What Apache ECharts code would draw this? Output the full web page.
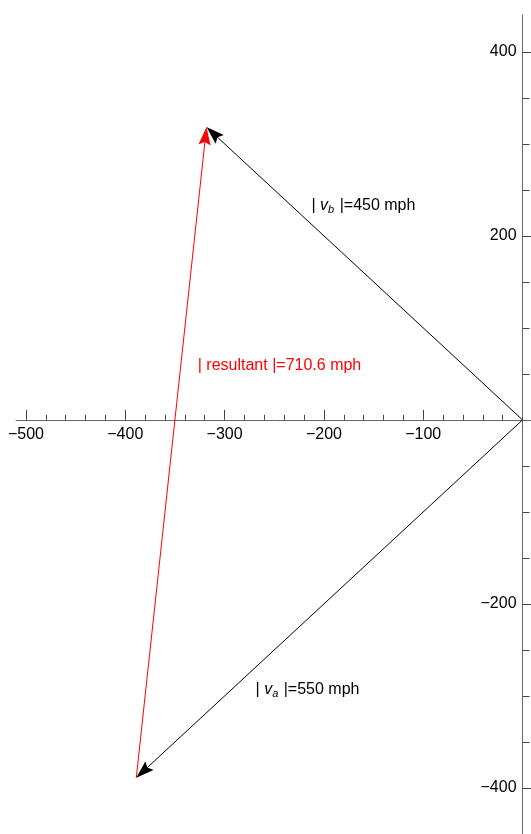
<!DOCTYPE html>
<html>
<head>
<meta charset="utf-8">
<script src="https://cdn.jsdelivr.net/npm/echarts@6/dist/echarts.min.js"></script>
<style>
html,body{margin:0;padding:0;background:#fff;}
#chart{width:531px;height:834px;}
</style>
</head>
<body>
<div id="chart"></div>
<script>
// ---- data ----
const xMajorTicks = [-500, -400, -300, -200, -100];
const xMinorTicks = [-480, -460, -440, -420, -380, -360, -340, -320, -280, -260, -240, -220, -180, -160, -140, -120, -80, -60, -40, -20];
const yMajorTicks = [-400, -200, 200, 400];
const yMinorTicks = [-350, -300, -250, -150, -100, -50, 50, 100, 150, 250, 300, 350];
const xTickLabels = ['\u2212500', '\u2212400', '\u2212300', '\u2212200', '\u2212100'];
const yTickLabels = ['\u2212400', '\u2212200', '200', '400'];
const xRange = [-510, 8.5];
const yRange = [-450, 440];

// vectors: start and end points (data units)
const vectorNames = ['v_a', 'v_b', 'resultant'];
const vectorStartX = [0, 0, -388.9];
const vectorStartY = [0, 0, -388.9];
const vectorEndX = [-388.9, -318.2, -318.2];
const vectorEndY = [-388.9, 318.2, 318.2];
const magnitudes = ['550', '450', '710.6'];
// label anchor points (data units)
const labelX = [-216.5, -160.2, -244.7];
const labelY = [-293.5, 232.4, 59.1];

const vectorColors = ['#000000', '#000000', '#ff0000'];
const FONT = '"Liberation Sans", Arial, Helvetica, sans-serif';

const arrowData = vectorNames.map((n, i) => [vectorStartX[i], vectorStartY[i], vectorEndX[i], vectorEndY[i]]);
const labelData = vectorNames.map((n, i) => [labelX[i], labelY[i]]);
const xLabelData = xMajorTicks.map((v, i) => [v, 0, i]);
const yLabelData = yMajorTicks.map((v, i) => [0, v, i]);

function labelText(i) {
  const n = vectorNames[i];
  if (n.indexOf('_') >= 0) {
    const parts = n.split('_');
    return '{bar|| }{it|' + parts[0] + '}{sub|' + parts[1] + '}{bar| |}=' + magnitudes[i] + ' mph';
  }
  return '{bar|| }' + n + '{bar| |}=' + magnitudes[i] + ' mph';
}

const chart = echarts.init(document.getElementById('chart'), null, {renderer: 'canvas'});

const axisColor = '#666666';
const tickColor = '#444444';

chart.setOption({
  animation: false,
  backgroundColor: '#ffffff',
  grid: {left: 16, right: 0, top: 15, bottom: 0, containLabel: false, outerBoundsMode: 'none'},
  xAxis: [
    {
      type: 'value', min: xRange[0], max: xRange[1], position: 'bottom',
      axisLine: {show: true, onZero: true, lineStyle: {color: axisColor, width: 1}},
      axisTick: {show: true, inside: true, length: 10, customValues: xMajorTicks, lineStyle: {color: tickColor, width: 1}},
      axisLabel: {show: false},
      splitLine: {show: false}
    },
    {
      type: 'value', min: xRange[0], max: xRange[1], position: 'bottom',
      axisLine: {show: false, onZero: true},
      axisTick: {show: true, inside: true, length: 5, customValues: xMinorTicks, lineStyle: {color: tickColor, width: 1}},
      axisLabel: {show: false},
      splitLine: {show: false}
    }
  ],
  yAxis: [
    {
      type: 'value', min: yRange[0], max: yRange[1], position: 'left',
      axisLine: {show: true, onZero: true, lineStyle: {color: axisColor, width: 1}},
      axisTick: {show: true, inside: true, length: 10, customValues: yMajorTicks, lineStyle: {color: tickColor, width: 1}},
      axisLabel: {show: false},
      splitLine: {show: false}
    },
    {
      type: 'value', min: yRange[0], max: yRange[1], position: 'left',
      axisLine: {show: false, onZero: true},
      axisTick: {show: true, inside: true, length: 7, customValues: yMinorTicks, lineStyle: {color: tickColor, width: 1}},
      axisLabel: {show: false},
      splitLine: {show: false}
    }
  ],
  series: [
    {
      // x tick labels, placed through the axis scale
      type: 'custom', coordinateSystem: 'cartesian2d', xAxisIndex: 0, yAxisIndex: 0, clip: false,
      data: xLabelData,
      renderItem: function (params, api) {
        const p = api.coord([api.value(0), api.value(1)]);
        return {type: 'text', x: p[0], y: p[1] + 7, style: {
          text: xTickLabels[params.dataIndex], align: 'center', verticalAlign: 'top',
          fill: '#000', fontSize: 16, fontFamily: FONT}};
      }
    },
    {
      // y tick labels
      type: 'custom', coordinateSystem: 'cartesian2d', xAxisIndex: 0, yAxisIndex: 0, clip: false,
      data: yLabelData,
      renderItem: function (params, api) {
        const p = api.coord([api.value(0), api.value(1)]);
        return {type: 'text', x: p[0] - 6, y: p[1], style: {
          text: yTickLabels[params.dataIndex], align: 'right', verticalAlign: 'middle',
          fill: '#000', fontSize: 16, fontFamily: FONT}};
      }
    },
    {
      type: 'custom',
      coordinateSystem: 'cartesian2d',
      xAxisIndex: 0, yAxisIndex: 0,
      clip: false,
      data: arrowData,
      renderItem: function (params, api) {
        const p0 = api.coord([api.value(0), api.value(1)]);
        const p1 = api.coord([api.value(2), api.value(3)]);
        const color = vectorColors[params.dataIndex];
        const dx = p1[0] - p0[0], dy = p1[1] - p0[1];
        const len = Math.hypot(dx, dy);
        const ux = dx / len, uy = dy / len;
        const L = 18, W = 6, N = 3;
        const base = [p1[0] - ux * L, p1[1] - uy * L];
        const notch = [p1[0] - ux * (L - N), p1[1] - uy * (L - N)];
        const left = [base[0] - uy * W, base[1] + ux * W];
        const right = [base[0] + uy * W, base[1] - ux * W];
        return {
          type: 'group',
          children: [
            {type: 'line', shape: {x1: p0[0], y1: p0[1], x2: notch[0], y2: notch[1]}, style: {stroke: color, lineWidth: 1}},
            {type: 'polygon', shape: {points: [p1, left, notch, right]}, style: {fill: color, stroke: null}}
          ]
        };
      }
    },
    {
      type: 'custom',
      coordinateSystem: 'cartesian2d',
      xAxisIndex: 0, yAxisIndex: 0,
      clip: false,
      data: labelData,
      renderItem: function (params, api) {
        const p = api.coord([api.value(0), api.value(1)]);
        const i = params.dataIndex;
        const color = vectorColors[i];
        return {
          type: 'text',
          x: p[0], y: p[1],
          style: {
            text: labelText(i),
            align: 'center',
            verticalAlign: 'middle',
            fill: color,
            fontSize: 16,
            fontFamily: FONT,
            rich: {
              bar: {fontSize: 16, fontFamily: FONT, fill: color, color: color},
              it: {fontSize: 16, fontFamily: FONT, fontStyle: 'italic', fill: color, color: color},
              sub: {fontSize: 11, fontFamily: FONT, fontStyle: 'italic', fill: color, color: color, padding: [7, 1, 0, 0]}
            }
          }
        };
      }
    }
  ]
});
</script>
</body>
</html>
